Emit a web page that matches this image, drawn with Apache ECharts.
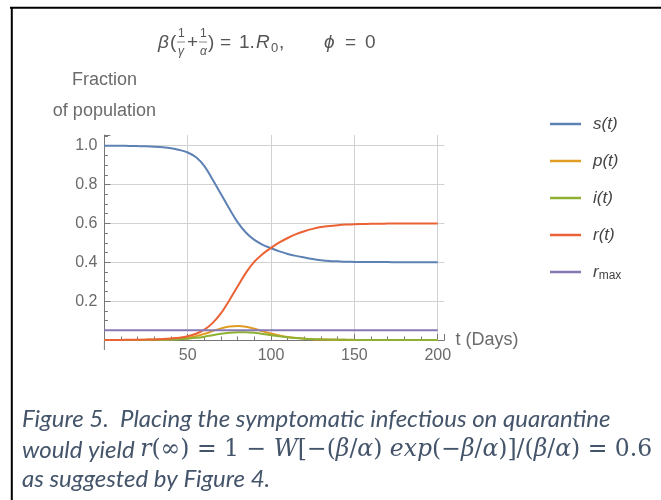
<!DOCTYPE html>
<html>
<head>
<meta charset="utf-8">
<script src="https://cdn.jsdelivr.net/npm/echarts@6/dist/echarts.min.js"></script>
<style>
html,body{margin:0;padding:0;background:#fff;}
#chart{width:661px;height:500px;}
</style>
</head>
<body>
<div id="chart"></div>
<script>
// ---- data ----
const tDays = [0,5,10,15,20,25,30,35,40,45,50,55,60,65,70,75,80,85,90,95,100,105,110,115,120,125,130,135,140,145,150,155,160,165,170,175,180,185,190,195,200];
const sVals = [1.0,1.0,0.9995,0.999,0.998,0.997,0.995,0.992,0.987,0.978,0.965,0.94,0.895,0.825,0.75,0.675,0.605,0.552,0.515,0.49,0.472,0.456,0.443,0.433,0.425,0.417,0.411,0.407,0.405,0.403,0.402,0.401,0.401,0.401,0.401,0.4,0.4,0.4,0.4,0.4,0.4];
const pVals = [0,0.0001,0.0002,0.0004,0.0006,0.001,0.0015,0.0025,0.004,0.007,0.012,0.02,0.032,0.046,0.06,0.069,0.072,0.068,0.058,0.045,0.033,0.023,0.015,0.01,0.0065,0.004,0.0026,0.0017,0.0011,0.0007,0.0005,0.0003,0.0002,0.0001,0.0001,0.0001,0,0,0,0,0];
const iVals = [0,0.0001,0.0001,0.0002,0.0004,0.0006,0.001,0.0015,0.0025,0.004,0.007,0.011,0.017,0.025,0.032,0.037,0.04,0.04,0.037,0.031,0.025,0.019,0.014,0.01,0.007,0.005,0.0035,0.0024,0.0016,0.0011,0.0007,0.0005,0.0003,0.0002,0.0001,0.0001,0.0001,0,0,0,0];
const rVals = [0,0.0003,0.0006,0.001,0.0015,0.0022,0.0032,0.005,0.008,0.012,0.019,0.032,0.053,0.088,0.138,0.205,0.277,0.347,0.403,0.443,0.474,0.502,0.525,0.545,0.56,0.572,0.581,0.587,0.591,0.594,0.596,0.597,0.598,0.598,0.599,0.599,0.599,0.6,0.6,0.6,0.6];
const rMaxLevel = 0.05;
const rMaxSpan = [0, 200];
const seriesNames = ['s(t)','p(t)','i(t)','r(t)','rmax'];
const xTickLabels = [50,100,150,200];
const yTickLabels = [0.2,0.4,0.6,0.8,1.0];

const colors = ['#5E81B5','#E19C24','#8FB032','#EB6235','#8778B3'];
const pair = (vals) => tDays.map((t,k) => [t, vals[k]]);

const chart = echarts.init(document.getElementById('chart'), null, {renderer:'canvas'});
const axisGray = '#777777';
const labelGray = '#6b6b6b';
const gridGray = '#d2d2d2';
const titleGray = '#555555';

function tx(x, y, text, font, extra) {
  return {type: 'text', x: x, y: y, style: Object.assign({text: text, font: font, fill: titleGray, verticalAlign: 'middle'}, extra || {})};
}
const T0 = 158; // title left edge

const option = {
  animation: false,
  grid: {left: 104.4, right: 216.6, top: 135, bottom: 160},
  xAxis: {
    type: 'value', min: 0, max: 204, interval: 50,
    axisLine: {onZero: false, lineStyle: {color: axisGray, width: 1}},
    axisTick: {inside: true, length: 6, lineStyle: {color: axisGray}},
    minorTick: {show: true, splitNumber: 5, length: 3.5, lineStyle: {color: axisGray}},
    splitLine: {show: true, showMinLine: false, showMaxLine: false, lineStyle: {color: gridGray, width: 1}},
    axisLabel: {
      margin: 8, color: labelGray, fontSize: 16, fontFamily: 'Liberation Sans',
      formatter: v => xTickLabels.indexOf(Math.round(v)) >= 0 && Math.abs(v - Math.round(v)) < 1e-6 ? String(Math.round(v)) : ''
    },
    name: 't (Days)', nameLocation: 'end', nameGap: 11,
    nameTextStyle: {color: labelGray, fontSize: 18, fontFamily: 'Liberation Sans', verticalAlign: 'middle'}
  },
  yAxis: {
    type: 'value', min: 0, max: 1.055, interval: 0.2,
    axisLine: {onZero: false, lineStyle: {color: axisGray, width: 1}},
    axisTick: {inside: true, length: 6, lineStyle: {color: axisGray}},
    minorTick: {show: true, splitNumber: 4, length: 3.5, lineStyle: {color: axisGray}},
    splitLine: {show: true, showMinLine: false, showMaxLine: false, lineStyle: {color: gridGray, width: 1}},
    axisLabel: {
      margin: 7, color: labelGray, fontSize: 16, fontFamily: 'Liberation Sans',
      formatter: v => {
        const hit = yTickLabels.find(y => Math.abs(y - v) < 1e-6);
        return hit !== undefined ? hit.toFixed(1) : '';
      }
    },
    name: 'Fraction\nof population', nameLocation: 'end', nameGap: 8.5,
    nameTextStyle: {color: labelGray, fontSize: 18, lineHeight: 31, fontFamily: 'Liberation Sans', align: 'center'}
  },
  legend: {
    orient: 'vertical', left: 550, top: 115.5, padding: 0,
    itemWidth: 31, itemHeight: 2.5, itemGap: 20, icon: 'rect',
    data: seriesNames,
    formatter: name => name === 'rmax' ? '{v|r}{sub|max}' : '{v|' + name + '}',
    textStyle: {
      color: '#444', padding: [0,0,0,7],
      rich: {
        v: {fontSize: 17, fontStyle: 'italic', fontFamily: 'Liberation Sans', color: '#444', lineHeight: 20},
        sub: {fontSize: 12, fontFamily: 'Liberation Sans', color: '#444', lineHeight: 12, verticalAlign: 'bottom'}
      }
    }
  },
  series: [
    {name: seriesNames[0], type: 'line', data: pair(sVals)},
    {name: seriesNames[1], type: 'line', data: pair(pVals)},
    {name: seriesNames[2], type: 'line', data: pair(iVals)},
    {name: seriesNames[3], type: 'line', data: pair(rVals)},
    {name: seriesNames[4], type: 'line', data: rMaxSpan.map(t => [t, rMaxLevel])}
  ].map((s, k) => Object.assign(s, {
    showSymbol: false, symbol: 'none', smooth: 0.3,
    color: colors[k], lineStyle: {color: colors[k], width: 2}
  })),
  graphic: [
    // page frame
    {type: 'line', shape: {x1: 10, y1: 7.7, x2: 661, y2: 7.7}, style: {stroke: '#000', lineWidth: 2}},
    {type: 'line', shape: {x1: 11.8, y1: 7, x2: 11.8, y2: 500}, style: {stroke: '#000', lineWidth: 2}},
    // y-axis stub below zero (axis line extends slightly under the x axis)
    {type: 'line', shape: {x1: 104.4, y1: 340, x2: 104.4, y2: 350}, style: {stroke: axisGray, lineWidth: 1}},
    // title
    tx(T0, 43, 'β', 'italic 19px "Liberation Sans"'),
    tx(T0 + 12, 43, '(', '19px "Liberation Sans"'),
    tx(T0 + 20, 34, '1', '12px "Liberation Sans"'),
    {type: 'line', shape: {x1: T0 + 19, y1: 42, x2: T0 + 27, y2: 42}, style: {stroke: '#888', lineWidth: 1}},
    tx(T0 + 20, 52, 'γ', 'italic 12px "Liberation Sans"'),
    tx(T0 + 29, 43, '+', '19px "Liberation Sans"'),
    tx(T0 + 42, 34, '1', '12px "Liberation Sans"'),
    {type: 'line', shape: {x1: T0 + 41, y1: 42, x2: T0 + 49, y2: 42}, style: {stroke: '#888', lineWidth: 1}},
    tx(T0 + 42, 52, 'α', 'italic 12px "Liberation Sans"'),
    tx(T0 + 50, 43, ')', '19px "Liberation Sans"'),
    tx(T0 + 62, 43, '=', '19px "Liberation Sans"'),
    tx(T0 + 81, 43, '1.', '19px "Liberation Sans"'),
    tx(T0 + 98, 43, 'R', 'italic 19px "Liberation Sans"'),
    tx(T0 + 113, 48, '0', '13px "Liberation Sans"'),
    tx(T0 + 121, 43, ',', '19px "Liberation Sans"'),
    tx(T0 + 166, 43, 'ϕ', 'italic 19px "Liberation Sans"'),
    tx(T0 + 187, 43, '=', '19px "Liberation Sans"'),
    tx(T0 + 207, 43, '0', '19px "Liberation Sans"'),
    // caption
    {type: 'text', x: 22, y: 419, style: {text: 'Figure 5.  Placing the symptomatic infectious on quarantine', font: 'italic 24px Lato', fill: '#44546A', verticalAlign: 'middle'}},
    {type: 'text', x: 22, y: 450, style: {
      text: '{a|would yield }{m|r}{n|(∞) = 1 − }{m|W}{n|[−(}{m|β}{n|/}{m|α}{n|) }{m|exp}{n|(−}{m|β}{n|/}{m|α}{n|)]/(}{m|β}{n|/}{m|α}{n|) = 0.6}',
      verticalAlign: 'middle', fill: '#44546A',
      rich: {
        a: {font: 'italic 24px Lato', fill: '#44546A'},
        m: {font: 'italic 23.5px "DejaVu Serif"', fill: '#44546A'},
        n: {font: '23.5px "DejaVu Serif"', fill: '#44546A'}
      }
    }},
    {type: 'text', x: 22, y: 479, style: {text: 'as suggested by Figure 4.', font: 'italic 24px Lato', fill: '#44546A', verticalAlign: 'middle'}}
  ]
};
chart.setOption(option);
</script>
</body>
</html>
